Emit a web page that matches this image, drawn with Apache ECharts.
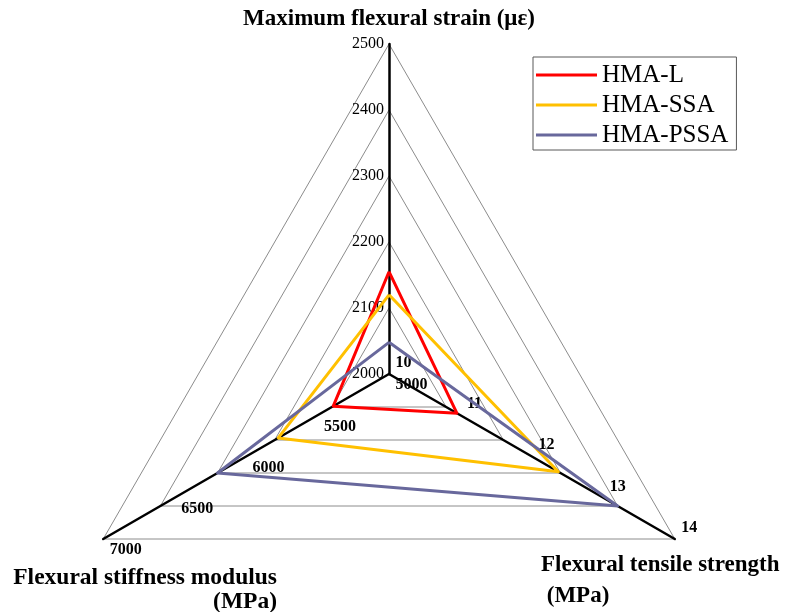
<!DOCTYPE html>
<html lang="en">
<head>
    <meta charset="UTF-8">
    <title>Radar chart of flexural properties</title>
    <script src="https://cdn.jsdelivr.net/npm/echarts@6/dist/echarts.min.js"></script>
    <style>
        body {
            margin: 0;
            padding: 0;
            background-color: white;
        }
        #main {
            width: 785px;
            height: 612px;
        }
    </style>
</head>
<body>
    <div id="main"></div>

    <script type="text/javascript">
        // 指标顺序：顶部、左下、右下（ECharts 雷达图逆时针排列）
        var indicatorNames = ['Maximum flexural strain (με)', 'Flexural stiffness modulus (MPa)', 'Flexural tensile strength (MPa)'];
        var indicatorMin = [2000, 5000, 10];
        var indicatorMax = [2500, 7000, 14];

        var seriesNames = ['HMA-L', 'HMA-SSA', 'HMA-PSSA'];
        var seriesColors = ['#ff0000', '#ffc000', '#68689c'];

        // 每个系列在三个指标上的取值
        var strainValues = [2155, 2120, 2048];
        var stiffnessValues = [5390, 5775, 6200];
        var tensileValues = [10.95, 12.37, 13.2];

        var serifFont = "'Times New Roman', 'Liberation Serif', serif";

        var chartDom = document.getElementById('main');
        var myChart = echarts.init(chartDom);

        var indicators = indicatorNames.map(function(name, i) {
            return { name: name, min: indicatorMin[i], max: indicatorMax[i] };
        });

        var center = [389, 374];
        var radius = 330;

        var option = {
            backgroundColor: '#fff',
            color: seriesColors,
            animation: false,
            title: [
                {
                    text: 'Maximum flexural strain (με)',
                    left: 389,
                    top: 8,
                    textAlign: 'center',
                    padding: 0,
                    textStyle: { fontFamily: serifFont, fontSize: 23, fontWeight: 'bold', color: '#000' }
                },
                {
                    text: 'Flexural tensile strength\n (MPa)',
                    left: 541,
                    top: 550,
                    padding: 0,
                    textStyle: { fontFamily: serifFont, fontSize: 23, fontWeight: 'bold', color: '#000', lineHeight: 31 }
                },
                {
                    text: 'Flexural stiffness modulus\n(MPa)',
                    left: 277,
                    top: 566,
                    textAlign: 'right',
                    padding: 0,
                    textStyle: { fontFamily: serifFont, fontSize: 23.5, fontWeight: 'bold', color: '#000', lineHeight: 24, align: 'right' }
                }
            ],
            legend: {
                data: seriesNames,
                orient: 'vertical',
                left: 533,
                top: 57,
                padding: [3, 8, 0, 3],
                itemGap: 0,
                itemWidth: 61,
                itemHeight: 3,
                icon: 'rect',
                borderColor: '#595959',
                borderWidth: 1,
                textStyle: { fontFamily: serifFont, fontSize: 25, color: '#000', lineHeight: 30 }
            },
            radar: [
                {
                    // 网格、坐标轴以及应变轴刻度
                    center: center,
                    radius: radius,
                    shape: 'polygon',
                    splitNumber: 5,
                    indicator: indicators,
                    axisName: { show: false },
                    axisLine: { lineStyle: { color: '#000', width: 2.5 } },
                    splitLine: { lineStyle: { color: '#8c8c8c', width: 1 } },
                    splitArea: { show: false },
                    axisTick: { show: false },
                    axisLabel: {
                        show: true,
                        margin: 5,
                        fontFamily: serifFont,
                        fontSize: 16,
                        color: '#000',
                        formatter: function(v) {
                            return (v >= 2000 && v <= 2500) ? String(v) : '';
                        }
                    }
                },
                {
                    // 只用来显示另外两个轴的粗体刻度（4 等分）
                    center: center,
                    radius: radius,
                    shape: 'polygon',
                    splitNumber: 4,
                    indicator: indicators,
                    axisName: { show: false },
                    axisLine: { show: false },
                    splitLine: { show: false },
                    splitArea: { show: false },
                    axisTick: { show: false },
                    axisLabel: {
                        show: true,
                        margin: 13,
                        fontFamily: serifFont,
                        fontSize: 16,
                        fontWeight: 'bold',
                        color: '#000',
                        formatter: function(v) {
                            return (v <= 14 || v >= 5000) ? String(v) : '';
                        }
                    }
                }
            ],
            series: seriesNames.map(function(name, i) {
                return {
                    name: name,
                    type: 'radar',
                    radarIndex: 0,
                    symbol: 'none',
                    lineStyle: { width: 3, color: seriesColors[i] },
                    itemStyle: { color: seriesColors[i] },
                    data: [{ name: name, value: [strainValues[i], stiffnessValues[i], tensileValues[i]] }]
                };
            })
        };

        myChart.setOption(option);
    </script>
</body>
</html>
